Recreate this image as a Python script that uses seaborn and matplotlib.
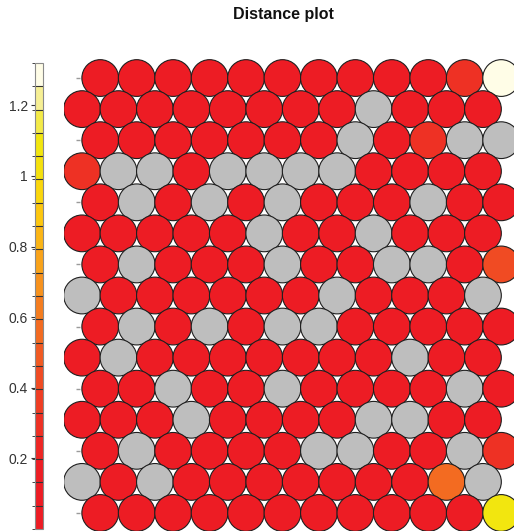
import matplotlib
matplotlib.use("Agg")
import matplotlib.pyplot as plt
import seaborn as sns
import pandas as pd
from matplotlib.colors import ListedColormap, BoundaryNorm
from matplotlib.cm import ScalarMappable

# SOM unit-distance map: 15 rows (top to bottom) x 12 units; None = empty unit
title = "Distance plot"
NA = None
distances = [
    [0.04, 0.03, 0.05, 0.04, 0.06, 0.05, 0.04, 0.03, 0.05, 0.06, 0.28, 1.30],
    [0.05, 0.04, 0.03, 0.05, 0.04, 0.06, 0.05, 0.04, NA,   0.05, 0.06, 0.04],
    [0.03, 0.05, 0.04, 0.06, 0.05, 0.04, 0.03, NA,   0.06, 0.27, NA,   NA],
    [0.29, NA,   NA,   0.05, NA,   NA,   NA,   NA,   0.04, 0.05, 0.06, 0.05],
    [0.04, NA,   0.05, NA,   0.04, NA,   0.06, 0.05, 0.04, NA,   0.05, 0.06],
    [0.06, 0.05, 0.04, 0.03, 0.05, NA,   0.04, 0.06, NA,   0.05, 0.04, 0.05],
    [0.05, NA,   0.06, 0.04, 0.05, NA,   0.03, 0.05, NA,   NA,   0.06, 0.42],
    [NA,   0.04, 0.05, 0.06, 0.04, 0.05, 0.06, NA,   0.05, 0.04, 0.05, NA],
    [0.04, NA,   0.05, NA,   0.06, NA,   NA,   0.04, 0.05, 0.06, 0.04, 0.05],
    [0.05, NA,   0.04, 0.05, 0.03, 0.06, 0.05, 0.04, 0.05, NA,   0.06, 0.04],
    [0.06, 0.05, NA,   0.04, 0.05, NA,   0.06, 0.05, 0.04, 0.05, NA,   0.06],
    [0.04, 0.06, 0.05, NA,   0.04, 0.05, 0.06, 0.04, NA,   NA,   0.05, 0.04],
    [0.05, NA,   0.04, 0.06, 0.05, 0.04, NA,   NA,   0.06, 0.05, NA,   0.28],
    [NA,   0.05, NA,   0.04, 0.06, 0.05, 0.04, 0.05, 0.06, 0.04, 0.56, NA],
    [0.04, 0.05, 0.06, 0.05, 0.04, 0.03, 0.05, 0.06, 0.04, 0.05, 0.06, 1.08],
]
dist_max = 1.32
cbar_ticks = [0.2, 0.4, 0.6, 0.8, 1.0, 1.2]
cbar_ticklabels = ["0.2", "0.4", "0.6", "0.8", "1", "1.2"]

# discrete heat scale, low -> high
level_colors = ["#ED1C24", "#ED1C24", "#ED1E24", "#EE2624", "#EE3124",
                "#EF3D23", "#F04B23", "#F15A22", "#F36B21", "#F57D1F",
                "#F7921D", "#F9A31A", "#FBB515", "#FDC70F", "#FAD60C",
                "#F5E10D", "#F2E60F", "#F3EA48", "#F6EF94", "#FFFDE7"]
empty_color = "#BEBEBE"

sns.set_style("white")
plt.rcParams["font.family"] = ["Liberation Sans", "DejaVu Sans"]

n_levels = len(level_colors)
bounds = [dist_max * i / n_levels for i in range(n_levels + 1)]
cmap = ListedColormap(level_colors)
norm = BoundaryNorm(bounds, cmap.N)

n_rows = len(distances)
records = []
for r, row in enumerate(distances):
    shift = 0.5 if r % 2 == 0 else 0.0
    for c, v in enumerate(row):
        fill = empty_color if v is None else matplotlib.colors.to_hex(cmap(norm(v)))
        records.append({"x": c + shift, "y": n_rows - 1 - r, "dist": v, "fill": fill})
units = pd.DataFrame(records)

# short row markers to the left of each shifted row
shifted_rows = pd.DataFrame({"y": [n_rows - 1 - r for r in range(0, n_rows, 2)]})
shifted_rows["x"] = -0.11

W, H = 514, 531
fig = plt.figure(figsize=(W / 100, H / 100), dpi=100)

# map grid: 36.45 px per unit horizontally, 31.07 px per row vertically
ax = fig.add_axes([63.8 / W, (H - 531.6) / H, 455.6 / W, 472.2 / H])
palette = {f: f for f in units["fill"].unique()}
sns.scatterplot(data=units, x="x", y="y", hue="fill", palette=palette,
                s=700, edgecolor="#1f1f1f", linewidth=0.8, legend=False, ax=ax)
sns.scatterplot(data=shifted_rows, x="x", y="y", marker="_", s=12,
                color="#9a9a9a", linewidth=1.0, legend=False, ax=ax)
ax.set_xlim(-0.5, 12.0)
ax.set_ylim(-0.6, 14.6)
ax.set_axis_off()

# colour key
cax = fig.add_axes([35 / W, (H - 529) / H, 8 / W, 466 / H])
cb = fig.colorbar(ScalarMappable(norm=norm, cmap=cmap), cax=cax,
                  drawedges=True, ticks=cbar_ticks)
cb.ax.yaxis.set_ticks_position("left")
cb.ax.set_yticklabels(cbar_ticklabels)
cb.ax.tick_params(length=3, width=0.8, color="#333333", labelsize=10,
                  labelcolor="#333333", pad=2)
cb.outline.set_edgecolor("#8a8a8a")
cb.outline.set_linewidth(0.8)
cb.dividers.set_color("#333333")
cb.dividers.set_linewidth(0.8)

fig.text(283 / W, 1 - 15 / H, title, ha="center", va="center",
         fontsize=11.5, fontweight="bold", color="#111111")

fig.savefig("out.png", dpi=100)
